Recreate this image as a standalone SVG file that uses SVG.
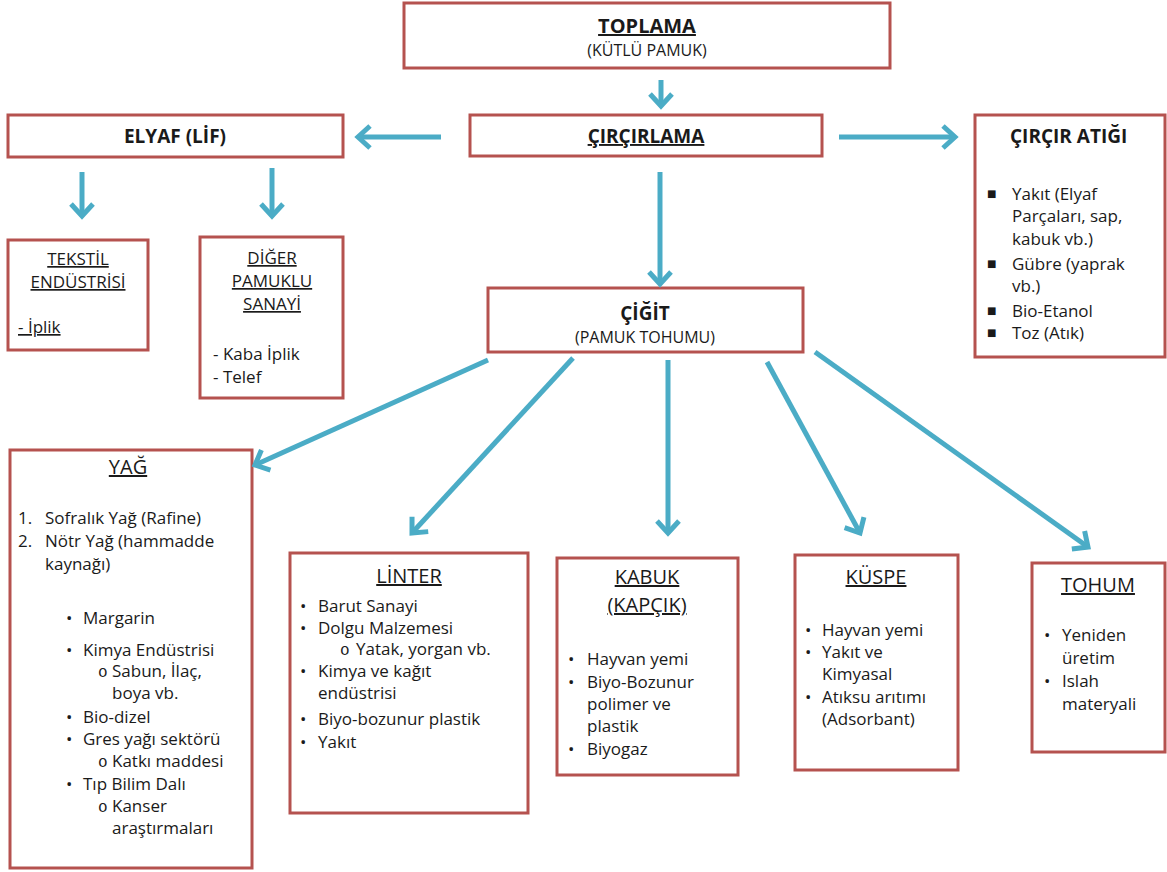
<svg xmlns="http://www.w3.org/2000/svg" width="1167" height="872" viewBox="0 0 1167 872">
<defs>
<marker id="ah" markerUnits="userSpaceOnUse" markerWidth="30" markerHeight="30" viewBox="0 0 30 30" refX="22" refY="15" orient="auto">
<path d="M10,4 L22,15 L10,26" fill="none" stroke="#4bacc6" stroke-width="5"/>
</marker>
<style>
.box{fill:#fff;stroke:#b5524f;stroke-width:3}
text{font-family:"Open Sans","Liberation Sans",sans-serif;font-size:17px;fill:#1a1a1a}
.h{font-size:20px;text-decoration:underline}
.b{font-weight:bold;font-size:19px}
.bt{font-size:20px}
.s{font-size:16px}
.c{text-anchor:middle}
.u{text-decoration:underline}
.o{font-family:"Liberation Mono",monospace;font-size:16px}
.sq{font-family:"DejaVu Sans",sans-serif;font-size:10px}
.conn line{stroke:#4bacc6;stroke-width:5;marker-end:url(#ah)}
</style>
</defs>
<rect width="1167" height="872" fill="#fff"/>

<g id="toplama">
<rect class="box" x="404" y="3" width="486" height="65"/>
<text class="b bt u c" x="647" y="33">TOPLAMA</text>
<text class="s c" x="647" y="56">(KÜTLÜ PAMUK)</text>
</g>

<g id="circirlama">
<rect class="box" x="470" y="115" width="352" height="41"/>
<text class="b u c" x="646" y="143">ÇIRÇIRLAMA</text>
</g>

<g id="elyaf">
<rect class="box" x="8" y="115" width="335" height="42"/>
<text class="b c" x="175" y="143">ELYAF (LİF)</text>
</g>

<g id="circir-atigi">
<rect class="box" x="975" y="115" width="190" height="242"/>
<text class="b" x="1010" y="143">ÇIRÇIR ATIĞI</text>
<text class="sq" x="987" y="197">■</text><text x="1012" y="200">Yakıt (Elyaf</text>
<text x="1012" y="222">Parçaları, sap,</text>
<text x="1012" y="245">kabuk vb.)</text>
<text class="sq" x="987" y="267">■</text><text x="1012" y="270">Gübre  (yaprak</text>
<text x="1012" y="292">vb.)</text>
<text class="sq" x="987" y="314">■</text><text x="1012" y="317">Bio-Etanol</text>
<text class="sq" x="987" y="336">■</text><text x="1012" y="339">Toz (Atık)</text>
</g>

<g id="tekstil">
<rect class="box" x="8" y="240" width="140" height="110"/>
<text class="u c" x="78" y="265">TEKSTİL</text>
<text class="u c" x="78" y="288">ENDÜSTRİSİ</text>
<text class="u" x="18" y="333">- İplik</text>
</g>

<g id="diger">
<rect class="box" x="200" y="237" width="143" height="161"/>
<text class="u c" x="272" y="264">DİĞER</text>
<text class="u c" x="272" y="287">PAMUKLU</text>
<text class="u c" x="272" y="310">SANAYİ</text>
<text x="213" y="360">- Kaba İplik</text>
<text x="213" y="383">- Telef</text>
</g>

<g id="cigit">
<rect class="box" x="488" y="288" width="315" height="64"/>
<text class="b c" x="645" y="320">ÇİĞİT</text>
<text class="s c" x="645" y="343">(PAMUK TOHUMU)</text>
</g>

<g id="yag">
<rect class="box" x="10" y="450" width="242" height="418"/>
<text class="h c" x="128" y="474">YAĞ</text>
<text x="18" y="524">1.</text><text x="45" y="524">Sofralık Yağ (Rafine)</text>
<text x="18" y="547">2.</text><text x="45" y="547">Nötr Yağ (hammadde</text>
<text x="45" y="570">kaynağı)</text>
<text x="66" y="624">•</text><text x="83" y="624">Margarin</text>
<text x="66" y="656">•</text><text x="83" y="656">Kimya Endüstrisi</text>
<text class="o" x="98" y="677">o</text><text x="112" y="677">Sabun, İlaç,</text>
<text x="112" y="699">boya vb.</text>
<text x="66" y="723">•</text><text x="83" y="723">Bio-dizel</text>
<text x="66" y="745">•</text><text x="83" y="745">Gres yağı sektörü</text>
<text class="o" x="98" y="767">o</text><text x="112" y="767">Katkı maddesi</text>
<text x="66" y="790">•</text><text x="83" y="790">Tıp Bilim Dalı</text>
<text class="o" x="98" y="812">o</text><text x="112" y="812">Kanser</text>
<text x="112" y="834">araştırmaları</text>
</g>

<g id="linter">
<rect class="box" x="290" y="553" width="238" height="260"/>
<text class="h c" x="409" y="583">LİNTER</text>
<text x="300" y="612">•</text><text x="318" y="612">Barut Sanayi</text>
<text x="300" y="634">•</text><text x="318" y="634">Dolgu Malzemesi</text>
<text class="o" x="340" y="655">o</text><text x="356" y="655">Yatak, yorgan vb.</text>
<text x="300" y="677">•</text><text x="318" y="677">Kimya ve kağıt</text>
<text x="318" y="699">endüstrisi</text>
<text x="300" y="725">•</text><text x="318" y="725">Biyo-bozunur  plastik</text>
<text x="300" y="748">•</text><text x="318" y="748">Yakıt</text>
</g>

<g id="kabuk">
<rect class="box" x="557" y="558" width="181" height="217"/>
<text class="h c" x="647" y="584">KABUK</text>
<text class="h c" x="647" y="612">(KAPÇIK)</text>
<text x="568" y="665">•</text><text x="587" y="665">Hayvan yemi</text>
<text x="568" y="688">•</text><text x="587" y="688">Biyo-Bozunur</text>
<text x="587" y="710">polimer ve</text>
<text x="587" y="732">plastik</text>
<text x="568" y="755">•</text><text x="587" y="755">Biyogaz</text>
</g>

<g id="kuspe">
<rect class="box" x="795" y="555" width="163" height="215"/>
<text class="h c" x="876" y="584">KÜSPE</text>
<text x="805" y="636">•</text><text x="822" y="636">Hayvan yemi</text>
<text x="805" y="658">•</text><text x="822" y="658">Yakıt ve</text>
<text x="822" y="680">Kimyasal</text>
<text x="805" y="703">•</text><text x="822" y="703">Atıksu arıtımı</text>
<text x="822" y="725">(Adsorbant)</text>
</g>

<g id="tohum">
<rect class="box" x="1032" y="563" width="133" height="189"/>
<text class="h c" x="1098" y="592">TOHUM</text>
<text x="1044" y="641">•</text><text x="1062" y="641">Yeniden</text>
<text x="1062" y="664">üretim</text>
<text x="1044" y="687">•</text><text x="1062" y="687">Islah</text>
<text x="1062" y="710">materyali</text>
</g>

<g id="connectors" class="conn">
<line x1="661" y1="80" x2="661" y2="106"/>
<line x1="441" y1="137" x2="358" y2="137"/>
<line x1="839" y1="137" x2="955" y2="137"/>
<line x1="660" y1="172" x2="660" y2="284"/>
<line x1="82" y1="172" x2="82" y2="216"/>
<line x1="272" y1="168" x2="272" y2="216"/>
<line x1="488" y1="360" x2="255" y2="465"/>
<line x1="573" y1="358" x2="412" y2="533"/>
<line x1="668" y1="360" x2="668" y2="533"/>
<line x1="767" y1="362" x2="860" y2="533"/>
<line x1="815" y1="352" x2="1088" y2="547"/>
</g>
</svg>
